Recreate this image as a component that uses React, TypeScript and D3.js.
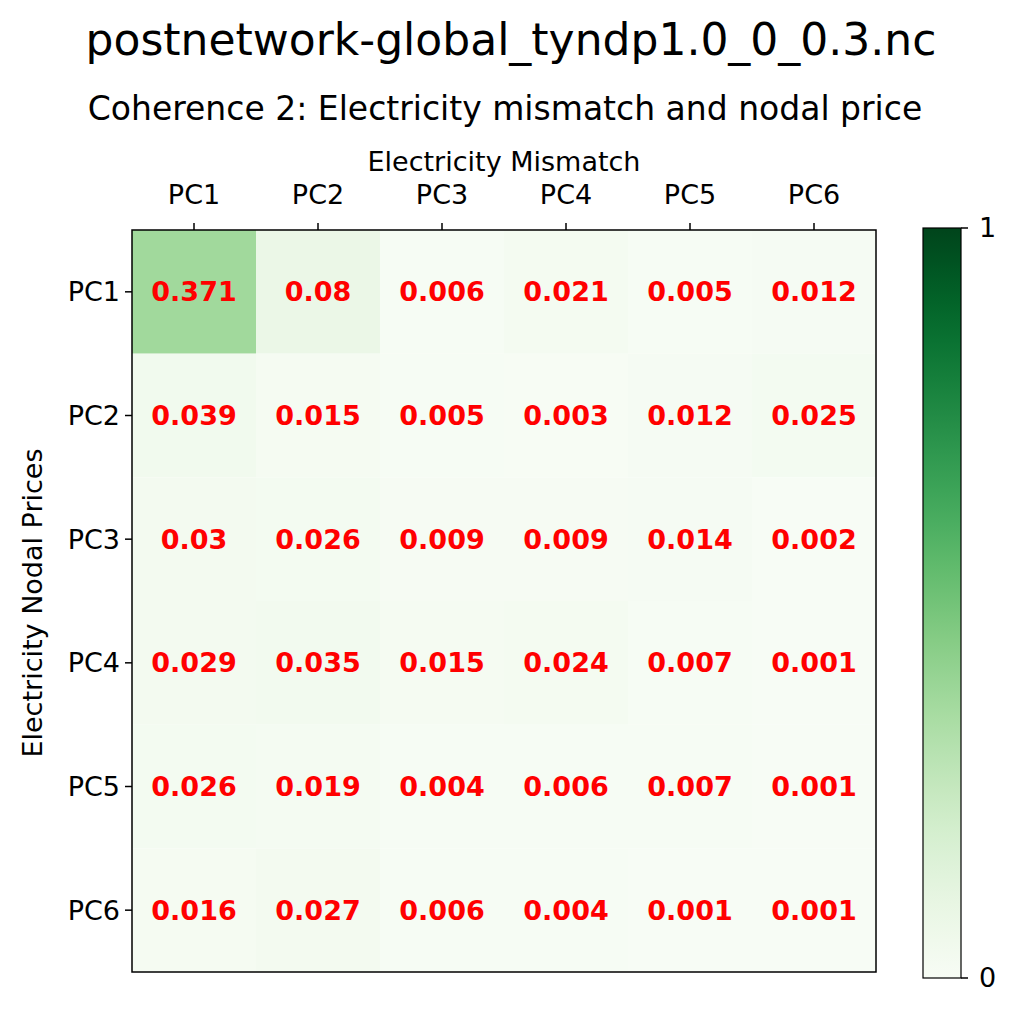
import React from 'react';
import * as d3 from 'd3';

const colLabels = ['PC1', 'PC2', 'PC3', 'PC4', 'PC5', 'PC6'];
const rowLabels = ['PC1', 'PC2', 'PC3', 'PC4', 'PC5', 'PC6'];
const values: number[][] = [
  [0.371, 0.08, 0.006, 0.021, 0.005, 0.012],
  [0.039, 0.015, 0.005, 0.003, 0.012, 0.025],
  [0.03, 0.026, 0.009, 0.009, 0.014, 0.002],
  [0.029, 0.035, 0.015, 0.024, 0.007, 0.001],
  [0.026, 0.019, 0.004, 0.006, 0.007, 0.001],
  [0.016, 0.027, 0.006, 0.004, 0.001, 0.001],
];
const colorTicks = [0, 1];

const W = 1017, H = 1016;
const left = 132, right = 876, top = 230, bottom = 972;
const cbLeft = 923, cbRight = 961, cbTop = 228, cbBottom = 978;
const font = 'DejaVu Sans, sans-serif';
const fs = 27;

export default function App() {
  const x = d3.scaleBand<string>().domain(colLabels).range([left, right]);
  const y = d3.scaleBand<string>().domain(rowLabels).range([top, bottom]);
  const color = (v: number) => d3.interpolateGreens(v);
  const cbY = d3.scaleLinear().domain([0, 1]).range([cbBottom, cbTop]);
  const stops = d3.range(0, 1.0001, 0.05);

  return (
    <svg width={W} height={H} style={{ position: 'absolute', left: 0, top: 0, background: '#fff' }} fontFamily={font}>
      <defs>
        <linearGradient id="cb" x1="0" y1="1" x2="0" y2="0">
          {stops.map(s => <stop key={s} offset={s} stopColor={color(s)} />)}
        </linearGradient>
      </defs>
      <text x={511} y={55} textAnchor="middle" fontSize={44}>postnetwork-global_tyndp1.0_0_0.3.nc</text>
      <text x={505} y={120} textAnchor="middle" fontSize={33}>Coherence 2: Electricity mismatch and nodal price</text>
      <text x={504} y={171} textAnchor="middle" fontSize={fs}>Electricity Mismatch</text>
      <text transform={`translate(42,${(top + bottom) / 2 + 2}) rotate(-90)`} textAnchor="middle" fontSize={fs}>Electricity Nodal Prices</text>

      {values.map((row, i) => row.map((v, j) => (
        <g key={`${i}-${j}`}>
          <rect x={x(colLabels[j])} y={y(rowLabels[i])} width={x.bandwidth()} height={y.bandwidth()} fill={color(v)} />
          <text x={x(colLabels[j])! + x.bandwidth() / 2} y={y(rowLabels[i])! + y.bandwidth() / 2} dy="0.35em"
            textAnchor="middle" fontSize={fs} fontWeight="bold" fill="red">{String(v)}</text>
        </g>
      )))}
      <rect x={left} y={top} width={right - left} height={bottom - top} fill="none" stroke="#000" strokeWidth={1.5} />

      {colLabels.map(c => {
        const cx = x(c)! + x.bandwidth() / 2;
        return (
          <g key={c}>
            <line x1={cx} x2={cx} y1={top} y2={top - 7} stroke="#000" strokeWidth={1.5} />
            <text x={cx} y={204} textAnchor="middle" fontSize={fs}>{c}</text>
          </g>
        );
      })}
      {rowLabels.map(r => {
        const cy = y(r)! + y.bandwidth() / 2;
        return (
          <g key={r}>
            <line x1={left} x2={left - 7} y1={cy} y2={cy} stroke="#000" strokeWidth={1.5} />
            <text x={left - 12} y={cy} dy="0.35em" textAnchor="end" fontSize={fs}>{r}</text>
          </g>
        );
      })}

      <rect x={cbLeft} y={cbTop} width={cbRight - cbLeft} height={cbBottom - cbTop} fill="url(#cb)" stroke="#000" strokeWidth={1.2} />
      {colorTicks.map(t => (
        <g key={t}>
          <line x1={cbRight} x2={cbRight + 7} y1={cbY(t)} y2={cbY(t)} stroke="#000" strokeWidth={1.5} />
          <text x={cbRight + 18} y={cbY(t)} dy="0.35em" fontSize={fs}>{t}</text>
        </g>
      ))}
    </svg>
  );
}
